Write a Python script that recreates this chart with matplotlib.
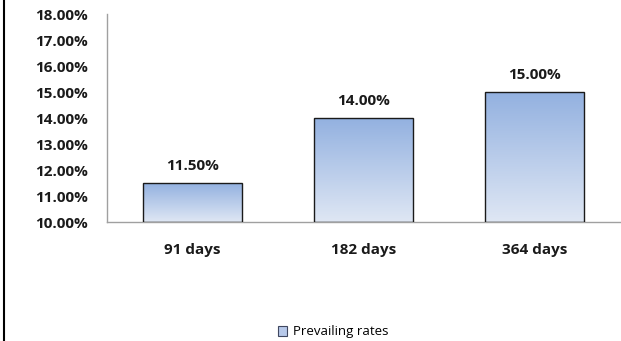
import numpy as np
import matplotlib
matplotlib.use('Agg')
import matplotlib.pyplot as plt
from matplotlib.patches import Patch
from matplotlib.lines import Line2D

# Data
categories = ['91 days', '182 days', '364 days']
rates = [11.50, 14.00, 15.00]
y_ticks = [10, 11, 12, 13, 14, 15, 16, 17, 18]
series_name = 'Prevailing rates'

plt.rcParams['font.family'] = ['Open Sans', 'DejaVu Sans']

fig = plt.figure(figsize=(6.21, 3.41), dpi=100)
ax = fig.add_axes([107 / 621, 1 - 222 / 341, 513 / 621, 208 / 341])

x = np.arange(len(categories))
bars = ax.bar(x, [r - 10 for r in rates], bottom=10, width=0.575,
              color='none', edgecolor='#1a1a1a', linewidth=1.0, zorder=3)

# gradient fill inside each bar
grad = np.linspace(0, 1, 256).reshape(-1, 1)
cmap = matplotlib.colors.LinearSegmentedColormap.from_list('g', ['#dfe7f4', '#93b1e0'])
for b in bars:
    x0, y0 = b.get_x(), b.get_y()
    w, h = b.get_width(), b.get_height()
    ax.imshow(grad, cmap=cmap, aspect='auto', origin='lower',
              extent=[x0, x0 + w, y0, y0 + h], zorder=2)

for xi, r in zip(x, rates):
    ax.text(xi, r + 0.38, '{0:.2f}%'.format(r), ha='center', va='bottom',
            fontsize=11, fontweight='bold', color='#1a1a1a')

ax.set_xlim(-0.5, len(categories) - 0.5)
ax.set_ylim(10, 18)
ax.set_yticks(y_ticks)
ax.set_yticklabels(['{0:.2f}%'.format(t) for t in y_ticks], fontsize=11, fontweight='bold')
ax.set_xticks(x)
ax.set_xticklabels(categories, fontsize=11, fontweight='bold')
ax.tick_params(length=0, colors='#1a1a1a')
ax.tick_params(axis='x', pad=15)
ax.tick_params(axis='y', pad=14)
for s in ['top', 'right']:
    ax.spines[s].set_visible(False)
for s in ['left', 'bottom']:
    ax.spines[s].set_color('#a0a0a0')
    ax.spines[s].set_linewidth(1.0)

# legend
handle = Patch(facecolor='#b7c9ea', edgecolor='#404860', linewidth=0.8)
fig.legend([handle], [series_name], loc='center', bbox_to_anchor=(333 / 621, 1 - 332 / 341),
           frameon=False, fontsize=9.5, handlelength=0.7, handleheight=0.7, handletextpad=0.4)

# left border line
fig.add_artist(Line2D([3.5 / 621, 3.5 / 621], [0, 1], color='black', linewidth=1.5))

fig.savefig('out.png', dpi=100)
